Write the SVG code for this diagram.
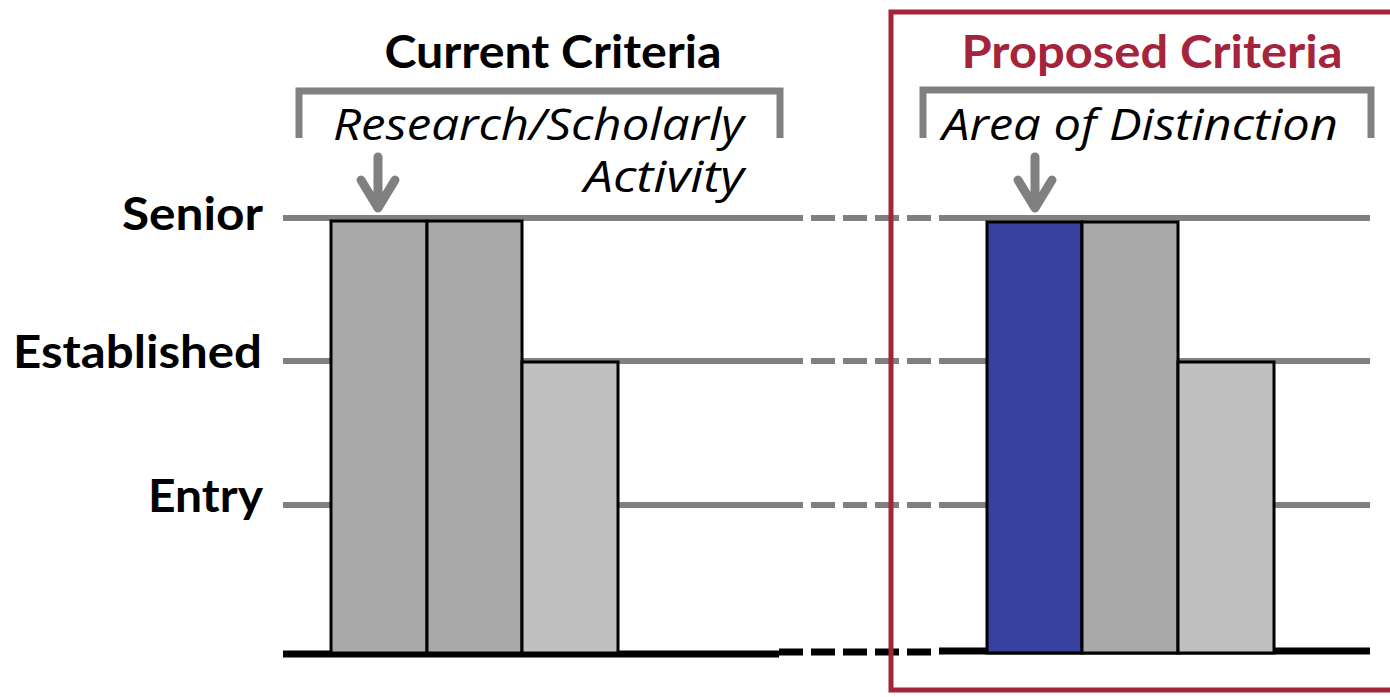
<svg xmlns="http://www.w3.org/2000/svg" width="1390" height="697" viewBox="0 0 1390 697">
<style>
.lvl{stroke:#808080;stroke-width:6;fill:none}
.base{stroke:#000;stroke-width:7;fill:none}
.dash{stroke-dasharray:24 8}
.brk{stroke:#808080;stroke-width:7;fill:none}
.arr{stroke:#808080;stroke-width:9;fill:none;stroke-linecap:round;stroke-linejoin:round}
.bar{stroke:#000;stroke-width:3}
.lab{font-family:Lato,"Open Sans",sans-serif;font-weight:bold;font-size:46px;fill:#000}
.ttl{font-family:Lato,"Open Sans",sans-serif;font-weight:bold;font-size:45px}
.it{font-family:"Open Sans",Lato,sans-serif;font-style:italic;font-size:44px;fill:#000}
</style>
<rect width="1390" height="697" fill="#fff"/>
<g id="connectors">
<path class="lvl" d="M283,218 H779 M283,361 H779 M283,505 H779"/>
<path class="lvl dash" d="M779,218 H939 M779,361 H939 M779,505 H939"/>
<path class="lvl" d="M939,218 H1370 M939,361 H1370 M939,505 H1370"/>
<path class="base" d="M283,654 H779"/>
<path class="base dash" d="M779,652 H939"/>
<path class="base" d="M939,651 H1370"/>
</g>
<g id="frame-proposed"><rect x="891" y="12" width="510" height="678" fill="none" stroke="#A4243B" stroke-width="5"/></g>
<g id="title-current"><text class="ttl" x="553" y="68" text-anchor="middle" fill="#000" textLength="337" lengthAdjust="spacingAndGlyphs">Current Criteria</text></g>
<g id="title-proposed"><text class="ttl" x="1152" y="68" text-anchor="middle" fill="#A4243B" textLength="381" lengthAdjust="spacingAndGlyphs">Proposed Criteria</text></g>
<g id="bracket-current">
<path class="brk" d="M299,138 V91 H780 V138"/>
<text class="it" x="333" y="140" textLength="411" lengthAdjust="spacingAndGlyphs">Research/Scholarly</text>
<text class="it" x="744" y="192" text-anchor="end" textLength="160" lengthAdjust="spacingAndGlyphs">Activity</text>
</g>
<g id="bracket-proposed">
<path class="brk" d="M923,138 V90 H1371 V138"/>
<text class="it" x="942" y="140" textLength="396" lengthAdjust="spacingAndGlyphs">Area of Distinction</text>
</g>
<g id="arrow-current"><path class="arr" d="M378,157 V208 M361,180 L378,208 L395,180"/></g>
<g id="arrow-proposed"><path class="arr" d="M1035,157 V208 M1018,180 L1035,208 L1052,180"/></g>
<g id="labels">
<text class="lab" x="263" y="230" text-anchor="end" textLength="141" lengthAdjust="spacingAndGlyphs">Senior</text>
<text class="lab" x="262" y="368" text-anchor="end" textLength="249" lengthAdjust="spacingAndGlyphs">Established</text>
<text class="lab" x="263" y="512" text-anchor="end" textLength="115" lengthAdjust="spacingAndGlyphs">Entry</text>
</g>
<g id="bars-current">
<rect class="bar" x="331" y="221" width="96" height="432" fill="#A9A9A9"/>
<rect class="bar" x="427" y="221" width="95" height="432" fill="#A9A9A9"/>
<rect class="bar" x="522" y="362" width="96" height="291" fill="#C0C0C0"/>
</g>
<g id="bars-proposed">
<rect class="bar" x="987" y="222" width="95" height="431" fill="#3741A0"/>
<rect class="bar" x="1082" y="222" width="96" height="431" fill="#A9A9A9"/>
<rect class="bar" x="1178" y="362" width="96" height="291" fill="#C0C0C0"/>
</g>
</svg>
